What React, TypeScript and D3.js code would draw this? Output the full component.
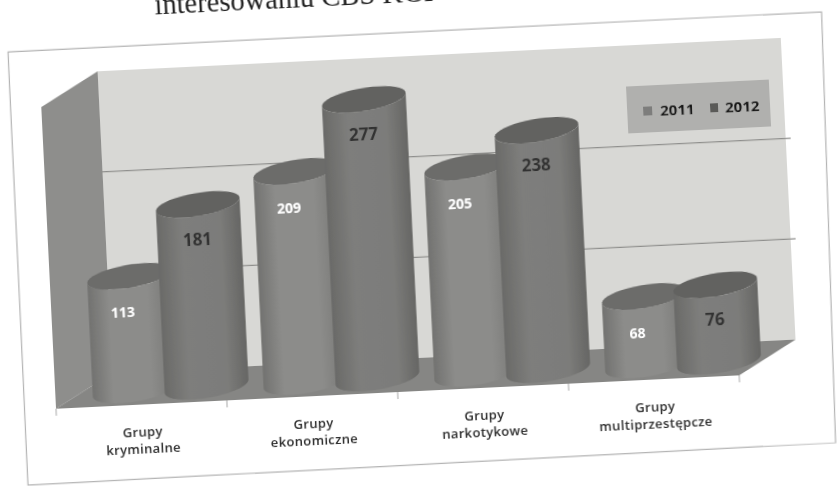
import React from "react";
import * as d3 from "d3";

const categories = ["kryminalne", "ekonomiczne", "narkotykowe", "multiprzestępcze"];
const seriesNames = ["2011", "2012"];
const values2011 = [113, 209, 205, 68];
const values2012 = [181, 277, 238, 76];
const gridTicks = [0, 100, 200, 300];
const categoryPrefix = "Grupy";
const headerText = "interesowaniu CBŚ KGP";

const W = 838, H = 486, ANGLE = -2.8;
const front = { x0: 36, x1: 720, base: 411 };
const depth = { x: 58, y: -33 };
const cylDepth = { x: 30, y: -15 };
const halfAxis = { ax: 39, bx: 16, by: -12.5 };

const x = d3.scaleBand<string>().domain(categories).range([front.x0, front.x1]);
const inner = d3.scaleBand<string>().domain(seriesNames).range([-72, 72]);
const h = d3.scaleLinear().domain([0, 300]).range([0, 302]);

const sideFill = ["url(#s2011)", "url(#s2012)"];
const topFill = ["#6c6c6a", "#626260"];
const labelFill = ["#ffffff", "#333333"];
const labelDx = [-8, -2];

const poly = d3.line<[number, number]>();
const t0 = Math.atan2(halfAxis.bx, halfAxis.ax);
const pt = (cx: number, cy: number, t: number): [number, number] => [
  cx + halfAxis.ax * Math.cos(t) + halfAxis.bx * Math.sin(t),
  cy + halfAxis.by * Math.sin(t),
];
const arc = (cx: number, cy: number, a: number, b: number) =>
  d3.range(0, 41).map((i) => pt(cx, cy, a + ((b - a) * i) / 40));

function Cylinder({ cat, ser, value, si }: { cat: string; ser: string; value: number; si: number }) {
  const cx = (x(cat) as number) + x.bandwidth() / 2 + cylDepth.x + (inner(ser) as number) + inner.bandwidth() / 2;
  const by = front.base + cylDepth.y;
  const ty = by - h(value);
  const lower = arc(cx, by, t0 + Math.PI, t0 + 2 * Math.PI);
  const upper = arc(cx, ty, t0 + 2 * Math.PI, t0 + Math.PI);
  const side = poly([...lower, ...upper]) + "Z";
  const top = poly(arc(cx, ty, 0, Math.PI * 2)) + "Z";
  return (
    <g>
      <path d={side} fill={sideFill[si]} />
      <path d={top} fill={topFill[si]} />
      <text
        x={cx + labelDx[si]}
        y={ty + 41}
        textAnchor="middle"
        fontFamily="'Open Sans', sans-serif"
        fontSize={si === 0 ? 14 : 17}
        fontWeight={700}
        fill={labelFill[si]}
      >
        {value}
      </text>
    </g>
  );
}

export default function App() {
  const backBase = front.base + depth.y;
  const fx0 = front.x0, fx1 = front.x1;
  const topH = h(300);
  const ticks = d3.range(0, categories.length + 1).map((i) => fx0 + i * x.step());
  return (
    <svg
      width={W}
      height={H}
      viewBox={`0 0 ${W} ${H}`}
      style={{ position: "absolute", left: 0, top: 0, background: "#fff" }}
    >
      <defs>
        <linearGradient id="s2011" x1="0" x2="1" y1="0" y2="0">
          <stop offset="0" stopColor="#727270" />
          <stop offset="0.25" stopColor="#8c8c8a" />
          <stop offset="0.7" stopColor="#8c8c8a" />
          <stop offset="1" stopColor="#777775" />
        </linearGradient>
        <linearGradient id="s2012" x1="0" x2="1" y1="0" y2="0">
          <stop offset="0" stopColor="#6a6a68" />
          <stop offset="0.3" stopColor="#7e7e7c" />
          <stop offset="0.75" stopColor="#7c7c7a" />
          <stop offset="1" stopColor="#666664" />
        </linearGradient>
        <filter id="scan" x="-2%" y="-2%" width="104%" height="104%">
          <feGaussianBlur stdDeviation="0.6" />
        </filter>
      </defs>
      <g transform={`rotate(${ANGLE})`} filter="url(#scan)">
        <text x={154} y={22} fontFamily="'Liberation Serif', serif" fontSize={28.5} fill="#222">
          {headerText}
        </text>
        <path
          d={poly([[5.5, 52.3], [820, 52], [813, 483], [4.3, 485.8]]) + "Z"}
          fill="none"
          stroke="#b4b4b4"
          strokeWidth={1.2}
        />
        <path
          d={poly([[fx0 + depth.x, backBase - topH], [fx1 + depth.x, backBase - topH], [fx1 + depth.x, backBase], [fx0 + depth.x, backBase]]) + "Z"}
          fill="#d8d8d5"
        />
        <path
          d={poly([[fx0, front.base - topH], [fx0 + depth.x, backBase - topH], [fx0 + depth.x, backBase], [fx0, front.base]]) + "Z"}
          fill="#8e8e8c"
        />
        <path
          d={poly([[fx0, front.base], [fx0 + depth.x, backBase], [fx1 + depth.x, backBase], [fx1, front.base]]) + "Z"}
          fill="#868684"
        />
        {gridTicks.slice(1, -1).map((t) => (
          <line
            key={t}
            x1={fx0 + depth.x}
            x2={fx1 + depth.x + 5}
            y1={backBase - h(t)}
            y2={backBase - h(t)}
            stroke="#8f8f8d"
            strokeWidth={1.4}
          />
        ))}
        {ticks.map((tx) => (
          <line key={tx} x1={tx} x2={tx} y1={front.base} y2={front.base + 7} stroke="#a8a8a8" />
        ))}
        {categories.map((c, i) =>
          seriesNames.map((s, si) => (
            <Cylinder key={c + s} cat={c} ser={s} si={si} value={(si === 0 ? values2011 : values2012)[i]} />
          ))
        )}
        {categories.map((c) => (
          <text
            key={c}
            textAnchor="middle"
            fontFamily="'Open Sans', sans-serif"
            fontSize={13}
            letterSpacing={0.35}
            fontWeight={600}
            fill="#2e2e2e"
          >
            <tspan x={(x(c) as number) + x.bandwidth() / 2} y={443}>{categoryPrefix}</tspan>
            <tspan x={(x(c) as number) + x.bandwidth() / 2} y={460}>{c}</tspan>
          </text>
        ))}
        <rect x={621} y={117} width={143} height={47} fill="#b0b0ae" />
        <rect x={637} y={138} width={9} height={9} fill="#7d7d7b" />
        <text x={654} y={148} fontFamily="'Open Sans', sans-serif" fontSize={15} fontWeight={700} fill="#161616">
          {seriesNames[0]}
        </text>
        <rect x={704} y={138} width={8} height={9} fill="#5a5a58" />
        <text x={719} y={148} fontFamily="'Open Sans', sans-serif" fontSize={15} fontWeight={700} fill="#161616">
          {seriesNames[1]}
        </text>
      </g>
    </svg>
  );
}
